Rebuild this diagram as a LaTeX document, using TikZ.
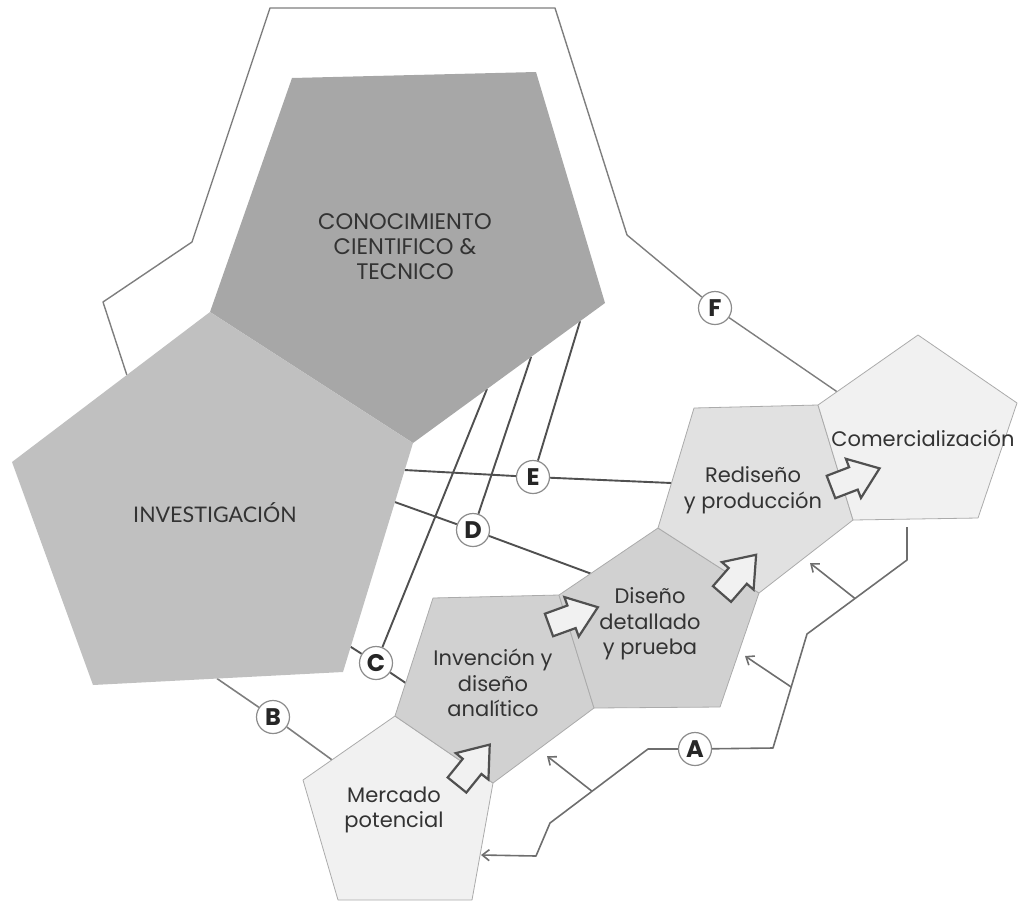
\documentclass[tikz,border=0pt]{standalone}
\usepackage{fontspec}
\setmainfont{Poppins}
\newfontfamily\capsfont{Lato}
\usetikzlibrary{calc,arrows.meta}
\pgfdeclarelayer{back}
\pgfsetlayers{back,main}

\definecolor{knowfill}{HTML}{A7A7A7}
\definecolor{resfill}{HTML}{C0C0C0}
\definecolor{midfill}{HTML}{D1D1D1}
\definecolor{lightfill}{HTML}{E1E1E1}
\definecolor{palefill}{HTML}{F1F1F1}
\definecolor{edgegray}{HTML}{ABABAB}
\definecolor{linkgray}{HTML}{505050}
\definecolor{loopgray}{HTML}{6E6E6E}
\definecolor{framegray}{HTML}{7E7E7E}
\definecolor{textgray}{HTML}{333333}

\tikzset{
  pent/.style={draw=edgegray, line width=0.8pt, line join=round},
  bigpent/.style={line join=round},
  link/.style={draw=linkgray, line width=1.9pt},
  frameline/.style={draw=framegray, line width=1.4pt, line join=round},
  loopline/.style={draw=loopgray, line width=1.6pt, line join=round},
  lettertag/.style={circle, draw=black!45, fill=white, line width=1.2pt,
    minimum size=33pt, inner sep=0pt,
    font=\bfseries\fontsize{24}{24}\selectfont, text=black!85},
  steptext/.style={align=center, text=textgray, inner sep=0pt,
    font=\fontsize{21}{25.5}\selectfont},
  fatarrow/.style={draw=linkgray, fill=palefill, line width=2.2pt, line join=miter},
  feedtip/.style={-{Straight Barb[length=7pt,width=11pt,line width=1.6pt]}},
}

% hollow block arrow: tail centre and direction angle
\newcommand\fatarrowat[2]{%
  \draw[fatarrow, shift={#1}, rotate=#2]
    (0,-12) -- (24,-12) -- (24,-21) -- (52,0) -- (24,21) -- (24,12) -- (0,12) -- cycle;}

\begin{document}
\begin{tikzpicture}[x=1pt,y=-1pt]
\useasboundingbox (0,0) rectangle (1019,905);

% ---- vertices ----
\coordinate (k1) at (292,78);
\coordinate (k2) at (536,72);
\coordinate (k3) at (605,303);
\coordinate (k4) at (413,443);
\coordinate (k5) at (210,312);

\coordinate (r3) at (343,672);
\coordinate (r4) at (93,685);
\coordinate (r5) at (12,462);

\coordinate (m1) at (303,780);
\coordinate (m2) at (395,716);
\coordinate (m3) at (493,783);
\coordinate (m4) at (472,900);
\coordinate (m5) at (338,900);

\coordinate (v1) at (433,598);
\coordinate (v2) at (559,595);
\coordinate (v3) at (594,708);

\coordinate (d2) at (658,528);
\coordinate (d3) at (759,593);
\coordinate (d4) at (720,707);

\coordinate (p1) at (694,408);
\coordinate (p2) at (818,405);
\coordinate (p3) at (853,520);

\coordinate (c2) at (918,335);
\coordinate (c3) at (1017,403);
\coordinate (c4) at (978,518);

% ---- pentagons ----
\fill[bigpent, knowfill] (k1) -- (k2) -- (k3) -- (k4) -- (k5) -- cycle;
\fill[bigpent, resfill] (k5) -- (k4) -- (r3) -- (r4) -- (r5) -- cycle;

\filldraw[pent, fill=palefill] (m1) -- (m2) -- (m3) -- (m4) -- (m5) -- cycle;
\filldraw[pent, fill=midfill] (v1) -- (v2) -- (v3) -- (m3) -- (m2) -- cycle;
\filldraw[pent, fill=midfill] (v2) -- (d2) -- (d3) -- (d4) -- (v3) -- cycle;
\filldraw[pent, fill=lightfill] (p1) -- (p2) -- (p3) -- (d3) -- (d2) -- cycle;
\filldraw[pent, fill=palefill] (p2) -- (c2) -- (c3) -- (c4) -- (p3) -- cycle;

% ---- labels ----
\node[steptext, font=\fontsize{22.5}{25}\selectfont] (know) at (405,247)
  {CONOCIMIENTO\\CIENTIFICO \&\\TECNICO};
\node[steptext, font=\capsfont\fontsize{21.5}{21.5}\selectfont] (research) at (215,513) {INVESTIGACIÓN};
\node[steptext] (market) at (394,810) {Mercado\\potencial};
\node[steptext] (invent) at (493,683) {Invención y\\diseño\\analítico};
\node[steptext] (detail) at (650,624) {Diseño\\detallado\\y prueba};
\node[steptext] (redesign) at (753,490) {Rediseño\\y producción};
\node[steptext] (sales) at (923,438) {Comercialización};

% ---- lettered junctions ----
\node[lettertag] (A) at (695,749) {A};
\node[lettertag] (B) at (273,717) {B};
\node[lettertag] (C) at (376,663) {C};
\node[lettertag] (D) at (473,530) {D};
\node[lettertag] (E) at (533,477) {E};
\node[lettertag] (F) at (715,308) {F};

% ---- end points on pentagon edges ----
\coordinate (eK) at ($(k3)!0.13!(k4)$);
\coordinate (dK) at ($(k3)!0.385!(k4)$);
\coordinate (cK) at ($(k3)!0.615!(k4)$);
\coordinate (eI) at ($(k4)!0.118!(r3)$);
\coordinate (dI) at ($(k4)!0.258!(r3)$);
\coordinate (cI) at ($(k4)!0.89!(r3)$);
\coordinate (bI) at ($(r3)!0.504!(r4)$);
\coordinate (fI) at ($(k5)!0.42!(r5)$);
\coordinate (eP) at ($(d2)!0.375!(p1)$);
\coordinate (dP) at ($(v2)!0.32!(d2)$);
\coordinate (cP) at ($(m2)!0.28!(v1)$);
\coordinate (bP) at ($(m1)!0.315!(m2)$);
\coordinate (fP) at ($(p2)!0.19!(c2)$);

\begin{pgfonlayer}{back}
  % outer frame through F
  \draw[frameline] (fI) -- (103,302) -- (192,242) -- (270,8) -- (555,8)
    -- (627,235) -- (F);
  \draw[frameline] (F) -- (fP);
  % links to the research blocks
  \draw[link] (eI) -- (E);
  \draw[link] (E) -- (eP);
  \draw[link] (eK) -- (E);
  \draw[link] (dI) -- (D);
  \draw[link] (D) -- (dP);
  \draw[link] (dK) -- (D);
  \draw[link] (cI) -- (C);
  \draw[link] (C) -- (cP);
  \draw[link] (cK) -- (C);
  \draw[frameline, line width=1.6pt] (bI) -- (B);
  \draw[frameline, line width=1.6pt] (B) -- (bP);
\end{pgfonlayer}

% ---- feedback path ----
\coordinate (q0) at (907,527);
\coordinate (q1) at (907,560);
\coordinate (q2) at (807,634);
\coordinate (q3) at (773,748);
\coordinate (q4) at (648,749);
\coordinate (q5) at (550,823);
\coordinate (q6) at (536,856);
\coordinate (q7) at (481,855);
\draw[loopline] (q0) -- (q1) -- (q2) -- (q3) -- (A);
\draw[loopline, feedtip] (A) -- (q4) -- (q5) -- (q6) -- (q7);

\coordinate (s1) at ($(q1)!0.52!(q2)$);
\coordinate (s2) at ($(q2)!0.465!(q3)$);
\coordinate (s3) at ($(q4)!0.571!(q5)$);
\coordinate (t1) at (810,563);
\coordinate (t2) at (745,656);
\coordinate (t3) at (547,756);
\draw[loopline, feedtip] (s1) -- (t1);
\draw[loopline, feedtip] (s2) -- (t2);
\draw[loopline, feedtip] (s3) -- (t3);

% ---- block arrows along the chain ----
\fatarrowat{(457,785)}{51}
\fatarrowat{(549,625)}{20}
\fatarrowat{(722,594)}{49}
\fatarrowat{(831,487)}{21}

\end{tikzpicture}
\end{document}
